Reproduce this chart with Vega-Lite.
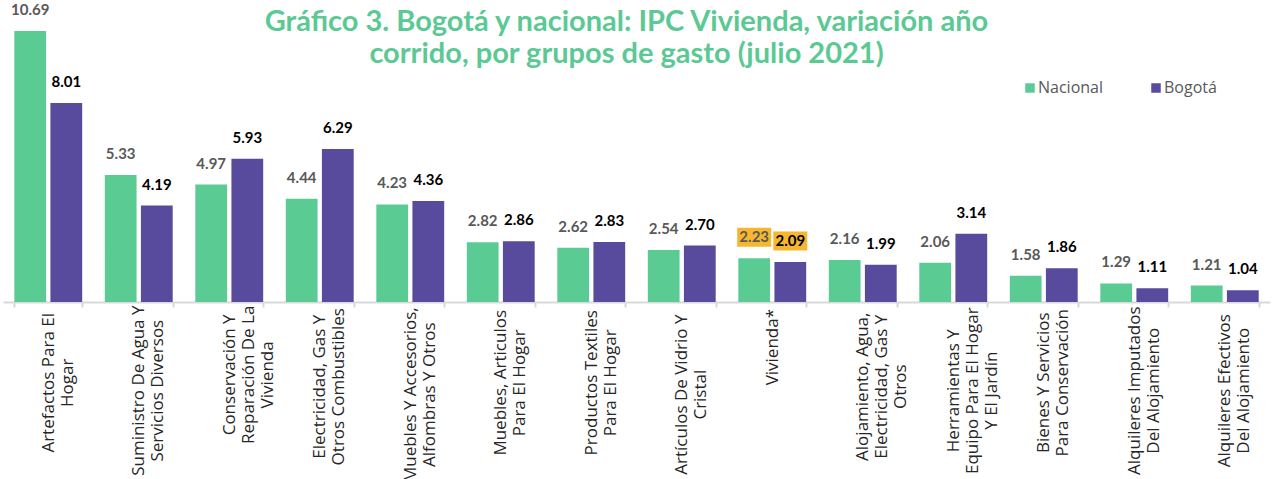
{
  "$schema": "https://vega.github.io/schema/vega-lite/v6.json",
  "autosize": "none",
  "width": 1267,
  "height": 284,
  "padding": {"left": 3, "top": 18, "right": 3, "bottom": 177},
  "background": "white",
  "config": {"view": {"stroke": null}, "font": "Lato"},
  "title": {
    "text": ["Gráfico 3. Bogotá y nacional: IPC Vivienda, variación año", "corrido, por grupos de gasto (julio 2021)"],
    "anchor": "middle",
    "frame": "group",
    "fontSize": 29,
    "fontWeight": "bold",
    "font": "Lato",
    "color": "#5BC994",
    "lineHeight": 32,
    "baseline": "top",
    "offset": 0,
    "dx": -10,
    "dy": 66
  },
  "data": {
    "values": [
      {"cat": "Artefactos Para El|Hogar", "serie": "Nacional", "value": 10.69},
      {"cat": "Artefactos Para El|Hogar", "serie": "Bogotá", "value": 8.01},
      {"cat": "Suministro De Agua Y|Servicios Diversos", "serie": "Nacional", "value": 5.33},
      {"cat": "Suministro De Agua Y|Servicios Diversos", "serie": "Bogotá", "value": 4.19},
      {"cat": "Conservación Y|Reparación De La|Vivienda", "serie": "Nacional", "value": 4.97},
      {"cat": "Conservación Y|Reparación De La|Vivienda", "serie": "Bogotá", "value": 5.93},
      {"cat": "Electricidad, Gas Y|Otros Combustibles", "serie": "Nacional", "value": 4.44},
      {"cat": "Electricidad, Gas Y|Otros Combustibles", "serie": "Bogotá", "value": 6.29},
      {"cat": "Muebles Y Accesorios,|Alfombras Y Otros", "serie": "Nacional", "value": 4.23},
      {"cat": "Muebles Y Accesorios,|Alfombras Y Otros", "serie": "Bogotá", "value": 4.36},
      {"cat": "Muebles, Articulos|Para El Hogar", "serie": "Nacional", "value": 2.82},
      {"cat": "Muebles, Articulos|Para El Hogar", "serie": "Bogotá", "value": 2.86},
      {"cat": "Productos Textiles|Para El Hogar", "serie": "Nacional", "value": 2.62},
      {"cat": "Productos Textiles|Para El Hogar", "serie": "Bogotá", "value": 2.83},
      {"cat": "Artículos De Vidrio Y|Cristal", "serie": "Nacional", "value": 2.54},
      {"cat": "Artículos De Vidrio Y|Cristal", "serie": "Bogotá", "value": 2.70},
      {"cat": "Vivienda*", "serie": "Nacional", "value": 2.23},
      {"cat": "Vivienda*", "serie": "Bogotá", "value": 2.09},
      {"cat": "Alojamiento, Agua,|Electricidad, Gas Y|Otros", "serie": "Nacional", "value": 2.16},
      {"cat": "Alojamiento, Agua,|Electricidad, Gas Y|Otros", "serie": "Bogotá", "value": 1.99},
      {"cat": "Herramientas Y|Equipo Para El Hogar|Y El Jardín", "serie": "Nacional", "value": 2.06},
      {"cat": "Herramientas Y|Equipo Para El Hogar|Y El Jardín", "serie": "Bogotá", "value": 3.14},
      {"cat": "Bienes Y Servicios|Para Conservación", "serie": "Nacional", "value": 1.58},
      {"cat": "Bienes Y Servicios|Para Conservación", "serie": "Bogotá", "value": 1.86},
      {"cat": "Alquileres Imputados|Del Alojamiento", "serie": "Nacional", "value": 1.29},
      {"cat": "Alquileres Imputados|Del Alojamiento", "serie": "Bogotá", "value": 1.11},
      {"cat": "Alquileres Efectivos|Del Alojamiento", "serie": "Nacional", "value": 1.21},
      {"cat": "Alquileres Efectivos|Del Alojamiento", "serie": "Bogotá", "value": 1.04}
    ]
  },
  "encoding": {
    "x": {
      "field": "cat",
      "type": "nominal",
      "sort": null,
      "scale": {"paddingInner": 0.25, "paddingOuter": 0.125},
      "axis": {
        "title": null,
        "labelAngle": -90,
        "labelAlign": "center",
        "labelBaseline": "middle",
        "labelExpr": "split(datum.label, '|')",
        "labelFont": "Open Sans",
        "labelFontSize": 17,
        "labelColor": "#262626",
        "labelLineHeight": 19,
        "labelPadding": 4,
        "labelLimit": 400,
        "labelOverlap": false,
        "tickBand": "extent",
        "tickSize": 5,
        "tickColor": "#D9D9D9",
        "tickWidth": 2,
        "domainColor": "#D9D9D9",
        "domainWidth": 2,
        "encoding": {
          "labels": {
            "dx": {"value": {"expr": "-3.96*max(length(split(datum.value,'|')[0]), length(split(datum.value,'|')[1] || ''), length(split(datum.value,'|')[2] || ''))"}}
          }
        }
      }
    },
    "xOffset": {
      "field": "serie",
      "type": "nominal",
      "sort": ["Nacional", "Bogotá"],
      "scale": {"paddingInner": 0.12, "paddingOuter": 0}
    },
    "y": {
      "field": "value",
      "type": "quantitative",
      "scale": {"domain": [0.6, 11.17], "zero": false, "nice": false},
      "axis": null
    }
  },
  "layer": [
    {
      "mark": {"type": "bar"},
      "encoding": {
        "y2": {"datum": 0.6},
        "color": {
          "field": "serie",
          "type": "nominal",
          "sort": ["Nacional", "Bogotá"],
          "scale": {"domain": ["Nacional", "Bogotá"], "range": ["#5BCB94", "#584A9C"]},
          "legend": {
            "orient": "none",
            "legendX": 1019,
            "legendY": 62,
            "direction": "horizontal",
            "title": null,
            "symbolType": "square",
            "symbolSize": 90,
            "symbolStrokeWidth": 0,
            "labelFont": "Open Sans",
            "labelFontSize": 16,
            "labelColor": "#595959",
            "labelOffset": 0,
            "columnPadding": 44,
            "padding": 0
          }
        }
      }
    },
    {
      "transform": [{"filter": "datum.cat == 'Vivienda*'"}],
      "mark": {
        "type": "point",
        "shape": "M-1,-0.56H1V0.56H-1Z",
        "size": 1156,
        "filled": true,
        "color": "#F6B72E",
        "opacity": 1,
        "yOffset": -21
      }
    },
    {
      "mark": {"type": "text", "dy": -21, "baseline": "middle", "fontWeight": "bold", "fontSize": 15, "font": "Lato"},
      "encoding": {
        "text": {"field": "value", "type": "quantitative", "format": ".2f"},
        "color": {"condition": {"test": "datum.serie == 'Nacional'", "value": "#595959"}, "value": "#000000"}
      }
    }
  ]
}
